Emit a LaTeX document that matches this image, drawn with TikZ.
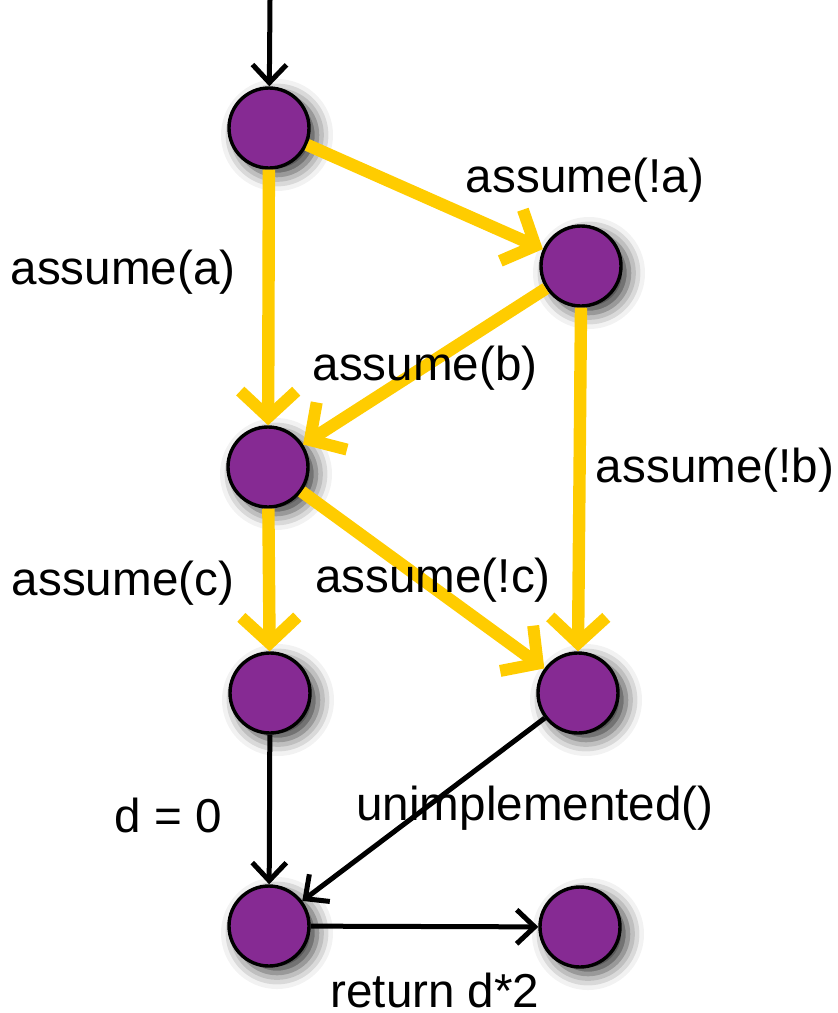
\documentclass[tikz,border=0pt]{standalone}
\usepackage{fontspec}
\setmainfont{Liberation Sans}
\usetikzlibrary{arrows.meta, shadows.blur}
\definecolor{StatePurple}{HTML}{862A93}
\definecolor{PathYellow}{HTML}{FFCC00}
\tikzset{
  state/.style={circle, draw=black, line width=1.7pt, fill=StatePurple,
    minimum size=40pt, inner sep=0pt,
    blur shadow={shadow xshift=4pt, shadow yshift=-3.5pt,
      shadow blur radius=8pt, shadow opacity=80}},
  yflow/.style={-{Straight Barb[length=13pt, width=28pt, line width=6pt]},
    line width=6.2pt, draw=PathYellow},
  bflow/.style={-{Straight Barb[length=9pt, width=17pt, line width=2.5pt]},
    line width=2.5pt, draw=black},
  lbl/.style={font=\fontsize{23.8}{28}\selectfont, inner sep=0pt},
}
\begin{document}
\begin{tikzpicture}[x=0.5pt, y=-0.5pt]
    \useasboundingbox (0,0) rectangle (838,1013);
    % states
    \coordinate (in) at (270,0);
    \node[state] (top)  at (269,128) {};
    \node[state] (nota) at (581,266) {};
    \node[state] (join) at (268,467) {};
    \node[state] (c)    at (270,693) {};
    \node[state] (fail) at (578,693) {};
    \node[state] (ret)  at (269,926) {};
    \node[state] (done) at (580,927) {};
    % paths
    \draw[bflow] (in) -- (top);
    \draw[yflow] (top) -- (nota);
    \draw[yflow] (top) -- (join);
    \draw[yflow] (nota) -- (join);
    \draw[yflow] (nota.south) -- (fail.north);
    \draw[yflow] (join) -- (c);
    \draw[yflow] (join) -- (fail);
    \draw[bflow] (c) -- (ret);
    \draw[bflow] (fail) -- (ret);
    \draw[bflow] (ret) -- (done);
    % labels
    \node[lbl] (la)   at (585,180) {assume(!a)};
    \node[lbl] (lb)   at (123,272) {assume(a)};
    \node[lbl] (lc)   at (425,368) {assume(b)};
    \node[lbl] (ld)   at (715,470) {assume(!b)};
    \node[lbl] (le)   at (123,583) {assume(c)};
    \node[lbl] (lf)   at (433,580) {assume(!c)};
    \node[lbl] (lg)   at (168,815) {d = 0};
    \node[lbl] (lh)   at (535,808) {unimplemented()};
    \node[lbl] (li)   at (435,990) {return d*2};
  \end{tikzpicture}
\end{document}
